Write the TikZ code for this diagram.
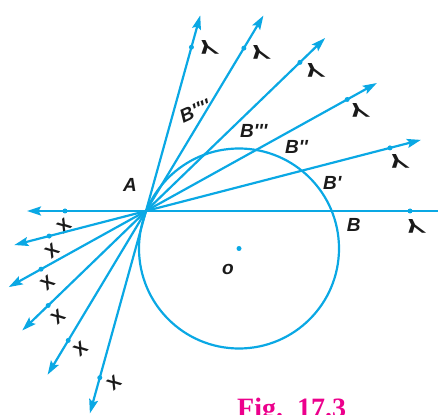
\documentclass[tikz,border=0pt]{standalone}
\usepackage{fontspec}
\setmainfont{Liberation Serif}
\setsansfont{Liberation Sans}
\usetikzlibrary{arrows.meta,calc}
\definecolor{raycyan}{HTML}{0AA8E4}
\definecolor{figpink}{HTML}{EC008C}
\definecolor{inkblack}{HTML}{1A1A1A}
\tikzset{
  ray/.style={-{Stealth[length=14pt,width=9pt,inset=2.5pt]}, line width=2.2pt,
              draw=raycyan},
  rim/.style={line width=2.2pt, draw=raycyan},
  dotpt/.style={circle, fill=raycyan, inner sep=0pt, minimum size=5pt},
  ptlbl/.style={font=\sffamily\bfseries\itshape\fontsize{19}{19}\selectfont,
                text=inkblack, inner sep=0pt},
  ymark/.style={font=\sffamily\bfseries\fontsize{20}{20}\selectfont,
                text=inkblack, inner sep=0pt, xslant=-0.5, rotate=180,
                xscale=1.4},
  xmark/.style={font=\sffamily\bfseries\fontsize{18}{18}\selectfont,
                text=inkblack, inner sep=0pt, rotate=40},
}
\newcommand{\pr}{\textquotesingle}

\begin{document}
\begin{tikzpicture}[x=1pt, y=1pt]
\useasboundingbox (-146,-203) rectangle (292,211);
\coordinate (A) at (0,0);
\coordinate (O) at (93,-37.5);

% ---------- the circle through A ----------------------------------------
\draw[rim] (O) circle[radius=100];
\node[dotpt] (odot) at (O) {};

% ---------- the rays XAY --------------------------------------------------
% angle / Y end / Y dot / X end / X dot
\foreach \ang/\ylen/\ydot/\xlen/\xdot [count=\k] in
   {0/292/264/119/81, 14.5/284/252/136/100, 29/264/230/157/120,
    44/249/214/172/136, 59/228/190/191/151, 74.5/203/170/210/173}{
  \coordinate (y\k) at (\ang:\ylen);
  \coordinate (x\k) at (\ang+180:\xlen);
  \draw[ray] (A) -- (x\k);
  \ifnum\k=1 \draw[rim] (A) -- (y\k); \else \draw[ray] (A) -- (y\k); \fi
  \node[dotpt] (ydot\k) at (\ang:\ydot) {};
  \node[dotpt] (xdot\k) at (\ang+180:\xdot) {};
  \node[ymark] (ylbl\k) at ($(\ang:\ydot+4)+(\ang-90:15)$) {Y};
  \node[xmark] (xlbl\k) at ($(\ang+180:\xdot+1)+(\ang-90:15)$) {X};
}

% ---------- labels --------------------------------------------------------
\node[ptlbl] (lblA) at (-16,26) {A};
\node[ptlbl] (lblO) at (82,-58) {o};
\node[ptlbl, anchor=west] (lblB) at (200.7,-14) {B};
\node[ptlbl, anchor=west] (lblB1) at (177,28) {B\pr};
\node[ptlbl, anchor=west] (lblB2) at (139,64) {B\pr\pr};
\node[ptlbl, anchor=west] (lblB3) at (94,80) {B\pr\pr\pr};
\node[ptlbl, rotate=25] (lblB4) at (49,100) {B\pr\pr\pr\pr};

\node[font=\rmfamily\bfseries\fontsize{28}{28}\selectfont, text=figpink,
      anchor=base west, inner sep=0pt] (figcap) at (91,-206)
   {Fig.\hspace{0.5em}17.3};
\end{tikzpicture}
\end{document}
